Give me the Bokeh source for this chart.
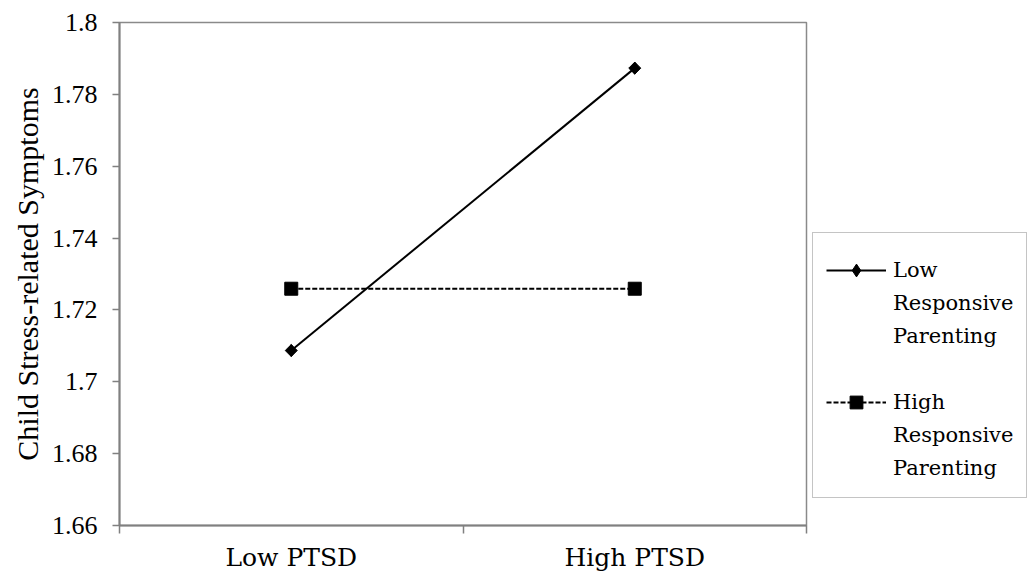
import math
from bokeh.plotting import figure
from bokeh.models import FixedTicker, Legend, LegendItem, Range1d
from bokeh.embed import file_html
from bokeh.resources import INLINE

categories = ["Low PTSD", "High PTSD"]
low_resp = [1.7087, 1.7873]
high_resp = [1.7259, 1.7259]
y_ticks = [1.66, 1.68, 1.70, 1.72, 1.74, 1.76, 1.78, 1.80]
y_tick_labels = ["1.66", "1.68", "1.7", "1.72", "1.74", "1.76", "1.78", "1.8"]
series_lines = [["Low", "Responsive", "Parenting"], ["High", "Responsive", "Parenting"]]
y_title = "Child Stress-related Symptoms"

xpos = [i + 0.5 for i in range(len(categories))]

p = figure(frame_width=687, frame_height=503,
           min_border_left=119, min_border_right=221, min_border_top=22, min_border_bottom=46,
           x_range=Range1d(0, len(categories)), y_range=Range1d(1.66, 1.80),
           output_backend="svg", toolbar_location=None)
p.grid.grid_line_color = None
p.outline_line_color = "#8a8a8a"
p.outline_line_width = 1.5
p.background_fill_color = "white"
p.border_fill_color = "white"

grey = "#808080"
# x axis
p.xaxis.ticker = FixedTicker(ticks=xpos, minor_ticks=list(range(len(categories) + 1)))
p.xaxis.major_label_overrides = {x: c for x, c in zip(xpos, categories)}
p.xaxis.major_tick_line_color = None
p.xaxis.major_tick_out = 0
p.xaxis.major_tick_in = 0
p.xaxis.minor_tick_line_color = grey
p.xaxis.minor_tick_line_width = 1.5
p.xaxis.minor_tick_out = 8
p.xaxis.minor_tick_in = 0
p.xaxis.axis_line_color = grey
p.xaxis.axis_line_width = 2
p.xaxis.major_label_text_font = "DejaVu Serif"
p.xaxis.major_label_text_font_size = "25px"
p.xaxis.major_label_text_color = "black"
p.xaxis.major_label_standoff = 9

# y axis
p.yaxis.ticker = FixedTicker(ticks=y_ticks, minor_ticks=[])
p.yaxis.major_label_overrides = {t: l for t, l in zip(y_ticks, y_tick_labels)}
p.yaxis.major_tick_line_color = grey
p.yaxis.major_tick_line_width = 1.5
p.yaxis.major_tick_out = 7
p.yaxis.major_tick_in = 0
p.yaxis.axis_line_color = grey
p.yaxis.axis_line_width = 2
p.yaxis.major_label_text_font = "Liberation Serif"
p.yaxis.major_label_text_font_size = "26px"
p.yaxis.major_label_text_color = "black"
p.yaxis.major_label_standoff = 15
p.yaxis.axis_label = y_title
p.yaxis.axis_label_text_font = "Liberation Serif"
p.yaxis.axis_label_text_font_size = "30px"
p.yaxis.axis_label_text_font_style = "normal"
p.yaxis.axis_label_text_color = "black"
p.yaxis.axis_label_standoff = 5

l1 = p.line(xpos, low_resp, line_color="black", line_width=2)
# diamond used as the legend swatch; hidden beneath the rotated-square markers
m1_key = p.scatter(xpos, low_resp, marker="diamond", size=12, fill_color="black", line_color="black")
m1 = p.scatter(xpos, low_resp, marker="square", size=8.5, angle=math.pi / 4,
               fill_color="black", line_color="black")
l2 = p.line(xpos, high_resp, line_color="black", line_width=2, line_dash="5 2")
m2 = p.scatter(xpos, high_resp, marker="square", size=13, fill_color="black", line_color="black")
blank = p.line([], [], line_alpha=0)

items = []
for k, (lines, rends) in enumerate(zip(series_lines, [[l1, m1_key], [l2, m2]])):
    if k > 0:
        items.append(LegendItem(label=" ", renderers=[blank]))
    items.append(LegendItem(label=lines[0], renderers=rends))
    for t in lines[1:]:
        items.append(LegendItem(label=t, renderers=[blank]))

legend = Legend(items=items, location=(6, 27))
legend.border_line_color = "#8a8a8a"
legend.border_line_width = 1.5
legend.background_fill_alpha = 1
legend.label_text_font = "DejaVu Serif"
legend.label_text_font_size = "21px"
legend.label_text_color = "black"
legend.glyph_width = 60
legend.glyph_height = 32
legend.label_height = 32
legend.label_standoff = 7
legend.padding = 13
legend.spacing = 1
legend.margin = 0
legend.title = " "
legend.title_text_font_size = "5px"
legend.title_standoff = 2
p.add_layout(legend, "right")

open("out.html", "w").write(file_html(p, INLINE))
